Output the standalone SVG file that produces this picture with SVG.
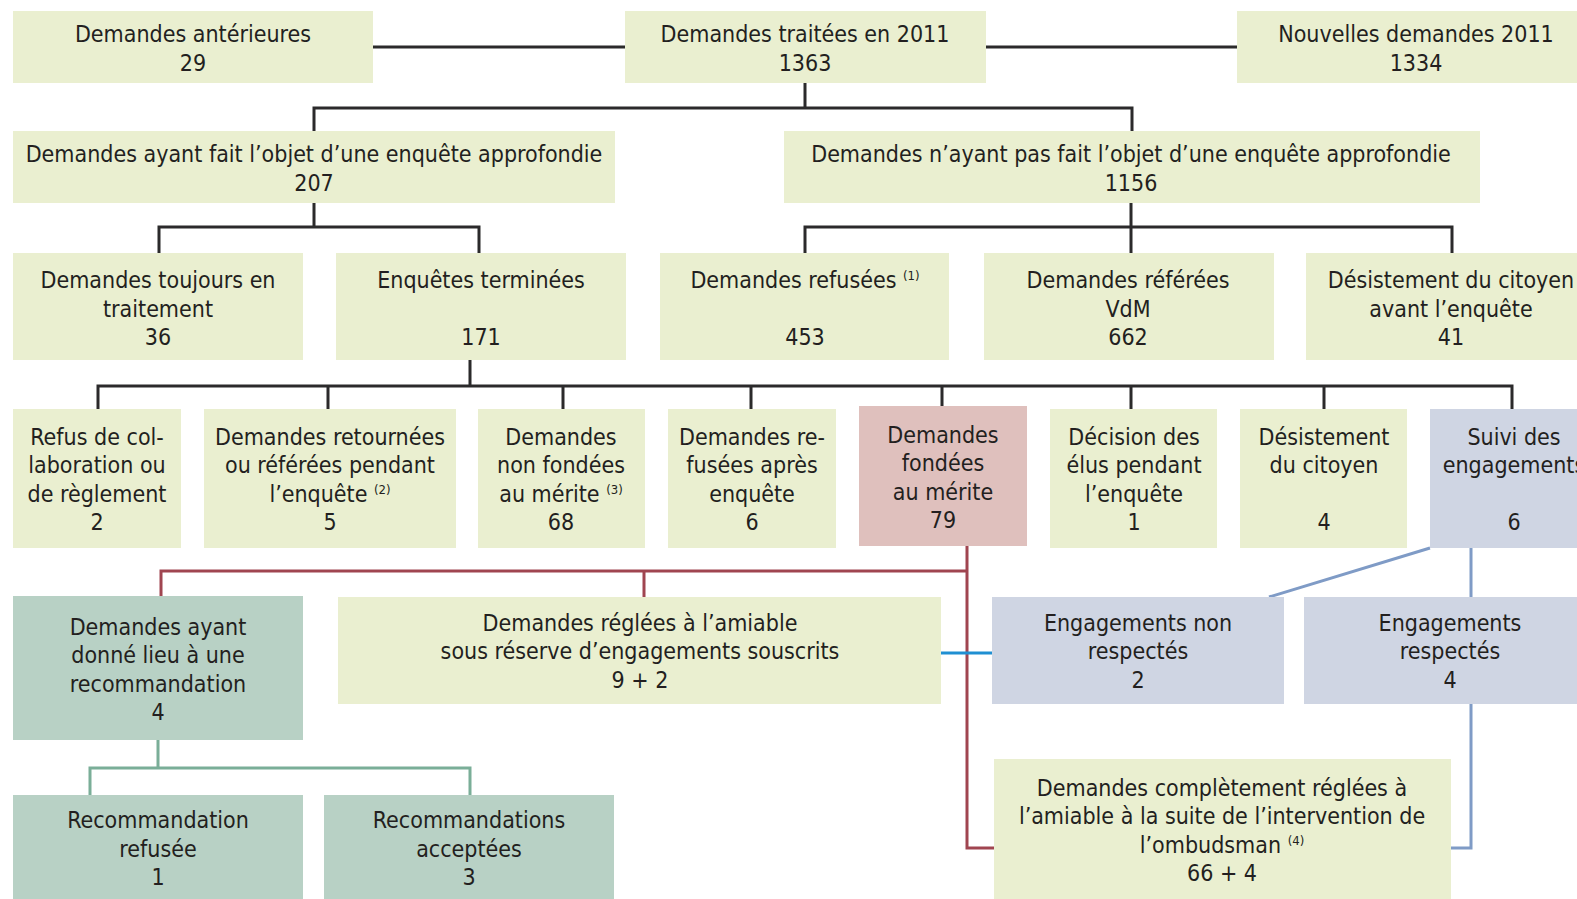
<svg xmlns="http://www.w3.org/2000/svg" width="1577" height="899" viewBox="0 0 1577 899">
<style>
text{font-family:"DejaVu Sans Condensed","DejaVu Sans",sans-serif;font-size:23px;fill:#231f20;text-anchor:middle}
.sup{font-size:13px}
.g{fill:#eaefd0}
.p{fill:#dfc0bd}
.b{fill:#cfd5e3}
.t{fill:#b8d1c5}
.ck{fill:none;stroke:#2b2a2b;stroke-width:3}
.cr{fill:none;stroke:#a04550;stroke-width:3}
.cb{fill:none;stroke:#7f9bc6;stroke-width:3}
.cl{fill:none;stroke:#1f8fd2;stroke-width:3}
.cg{fill:none;stroke:#7aae98;stroke-width:3}
</style>
<rect width="1577" height="899" fill="#ffffff"/>
<g id="connectors">
<path class="ck" d="M373 47H625M986 47H1237M805 83V108M314 131V108H1132V131"/>
<path class="ck" d="M314 203V227M159 253V227H479V253M1131 203V253M805 253V227H1452V253"/>
<path class="ck" d="M470 360V386M98 409V386H1512V409M328 386V409M563 386V409M751 386V409M942 386V406M1131 386V409M1324 386V409"/>
<path class="cr" d="M967 546V848H994M161 596V571H967M644 571V597"/>
<path class="cl" d="M941 653H992"/>
<path class="cb" d="M1430 548L1269 597M1471 548V597M1471 704V848H1451"/>
<path class="cg" d="M158 740V768M90 795V768H470V795"/>
</g>
<g id="n-anterieures"><rect class="g" x="13" y="11" width="360" height="72"/><text x="193" y="42">Demandes antérieures</text><text x="193" y="71">29</text></g>
<g id="n-traitees"><rect class="g" x="625" y="11" width="361" height="72"/><text x="805" y="42">Demandes traitées en 2011</text><text x="805" y="71">1363</text></g>
<g id="n-nouvelles"><rect class="g" x="1237" y="11" width="340" height="72"/><text x="1416" y="42">Nouvelles demandes 2011</text><text x="1416" y="71">1334</text></g>
<g id="n-avec-enquete"><rect class="g" x="13" y="131" width="602" height="72"/><text x="314" y="162">Demandes ayant fait l’objet d’une enquête approfondie</text><text x="314" y="191">207</text></g>
<g id="n-sans-enquete"><rect class="g" x="784" y="131" width="696" height="72"/><text x="1131" y="162">Demandes n’ayant pas fait l’objet d’une enquête approfondie</text><text x="1131" y="191">1156</text></g>
<g id="n-toujours"><rect class="g" x="13" y="253" width="290" height="107"/><text x="158" y="288">Demandes toujours en</text><text x="158" y="317">traitement</text><text x="158" y="345">36</text></g>
<g id="n-terminees"><rect class="g" x="336" y="253" width="290" height="107"/><text x="481" y="288">Enquêtes terminées</text><text x="481" y="345">171</text></g>
<g id="n-refusees"><rect class="g" x="660" y="253" width="289" height="107"/><text x="805" y="288">Demandes refusées <tspan class="sup" dy="-8">(1)</tspan></text><text x="805" y="345">453</text></g>
<g id="n-referees"><rect class="g" x="984" y="253" width="290" height="107"/><text x="1128" y="288">Demandes référées</text><text x="1128" y="317">VdM</text><text x="1128" y="345">662</text></g>
<g id="n-desist-avant"><rect class="g" x="1306" y="253" width="271" height="107"/><text x="1451" y="288">Désistement du citoyen</text><text x="1451" y="317">avant l’enquête</text><text x="1451" y="345">41</text></g>
<g id="n-refus-collab"><rect class="g" x="13" y="409" width="168" height="139"/><text x="97" y="445">Refus de col-</text><text x="97" y="473">laboration ou</text><text x="97" y="502">de règlement</text><text x="97" y="530">2</text></g>
<g id="n-retournees"><rect class="g" x="204" y="409" width="252" height="139"/><text x="330" y="445">Demandes retournées</text><text x="330" y="473">ou référées pendant</text><text x="330" y="502">l’enquête <tspan class="sup" dy="-8">(2)</tspan></text><text x="330" y="530">5</text></g>
<g id="n-non-fondees"><rect class="g" x="478" y="409" width="167" height="139"/><text x="561" y="445">Demandes</text><text x="561" y="473">non fondées</text><text x="561" y="502">au mérite <tspan class="sup" dy="-8">(3)</tspan></text><text x="561" y="530">68</text></g>
<g id="n-refusees-apres"><rect class="g" x="668" y="409" width="168" height="139"/><text x="752" y="445">Demandes re-</text><text x="752" y="473">fusées après</text><text x="752" y="502">enquête</text><text x="752" y="530">6</text></g>
<g id="n-fondees"><rect class="p" x="859" y="406" width="168" height="140"/><text x="943" y="443">Demandes</text><text x="943" y="471">fondées</text><text x="943" y="500">au mérite</text><text x="943" y="528">79</text></g>
<g id="n-decision"><rect class="g" x="1050" y="409" width="167" height="139"/><text x="1134" y="445">Décision des</text><text x="1134" y="473">élus pendant</text><text x="1134" y="502">l’enquête</text><text x="1134" y="530">1</text></g>
<g id="n-desist"><rect class="g" x="1240" y="409" width="167" height="139"/><text x="1324" y="445">Désistement</text><text x="1324" y="473">du citoyen</text><text x="1324" y="530">4</text></g>
<g id="n-suivi"><rect class="b" x="1430" y="409" width="147" height="139"/><text x="1514" y="445">Suivi des</text><text x="1514" y="473">engagements</text><text x="1514" y="530">6</text></g>
<g id="n-recommandation"><rect class="t" x="13" y="596" width="290" height="144"/><text x="158" y="635">Demandes ayant</text><text x="158" y="663">donné lieu à une</text><text x="158" y="692">recommandation</text><text x="158" y="720">4</text></g>
<g id="n-reglees-sous-reserve"><rect class="g" x="338" y="597" width="603" height="107"/><text x="640" y="631">Demandes réglées à l’amiable</text><text x="640" y="659">sous réserve d’engagements souscrits</text><text x="640" y="688">9 + 2</text></g>
<g id="n-non-respectes"><rect class="b" x="992" y="597" width="292" height="107"/><text x="1138" y="631">Engagements non</text><text x="1138" y="659">respectés</text><text x="1138" y="688">2</text></g>
<g id="n-respectes"><rect class="b" x="1304" y="597" width="273" height="107"/><text x="1450" y="631">Engagements</text><text x="1450" y="659">respectés</text><text x="1450" y="688">4</text></g>
<g id="n-rec-refusee"><rect class="t" x="13" y="795" width="290" height="104"/><text x="158" y="828">Recommandation</text><text x="158" y="857">refusée</text><text x="158" y="885">1</text></g>
<g id="n-rec-acceptees"><rect class="t" x="324" y="795" width="290" height="104"/><text x="469" y="828">Recommandations</text><text x="469" y="857">acceptées</text><text x="469" y="885">3</text></g>
<g id="n-completement"><rect class="g" x="994" y="759" width="457" height="140"/><text x="1222" y="796">Demandes complètement réglées à</text><text x="1222" y="824">l’amiable à la suite de l’intervention de</text><text x="1222" y="853">l’ombudsman <tspan class="sup" dy="-8">(4)</tspan></text><text x="1222" y="881">66 + 4</text></g>
</svg>
